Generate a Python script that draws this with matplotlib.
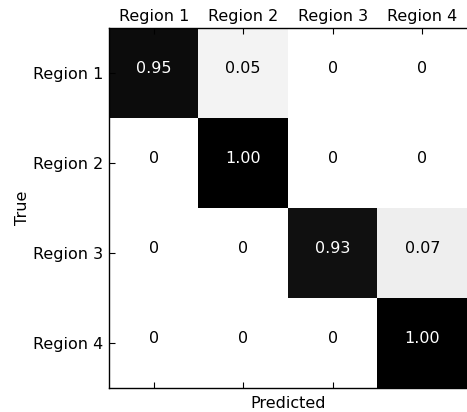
import numpy as np
import matplotlib
matplotlib.use("Agg")
import matplotlib.pyplot as plt

regions = ["Region 1", "Region 2", "Region 3", "Region 4"]
row_region1 = [0.95, 0.05, 0.00, 0.00]
row_region2 = [0.00, 1.00, 0.00, 0.00]
row_region3 = [0.00, 0.00, 0.93, 0.07]
row_region4 = [0.00, 0.00, 0.00, 1.00]

cm = np.array([row_region1, row_region2, row_region3, row_region4])

fs = 11.5

fig = plt.figure(figsize=(4.67, 4.12), dpi=100)
ax = fig.add_axes([109 / 467, 24 / 412, 358 / 467, 360 / 412])

ax.imshow(cm, cmap="gray_r", vmin=0, vmax=1, aspect="auto",
          interpolation="nearest")

for i in range(cm.shape[0]):
    for j in range(cm.shape[1]):
        v = cm[i, j]
        txt = "0" if v == 0 else f"{v:.2f}"
        ax.text(j, i, txt, ha="center", va="baseline", fontsize=fs,
                color="white" if v > 0.5 else "black")

ax.set_xticks(range(len(regions)))
ax.set_yticks(range(len(regions)))
ax.set_xticklabels(regions, fontsize=fs)
ax.set_yticklabels(regions, fontsize=fs)
ax.tick_params(axis="x", which="both", direction="in", top=True, bottom=True,
               labeltop=True, labelbottom=False, length=4, pad=3)
ax.tick_params(axis="y", direction="in", left=True, right=False, length=4,
               pad=4)

ax.set_xlabel("Predicted", fontsize=fs, labelpad=6)
ax.set_ylabel("True", fontsize=fs, labelpad=2)
ax.xaxis.set_label_position("bottom")

ax.spines["right"].set_visible(False)
for s in ("left", "bottom", "top"):
    ax.spines[s].set_linewidth(1.0)

fig.savefig("out.png", dpi=100)
